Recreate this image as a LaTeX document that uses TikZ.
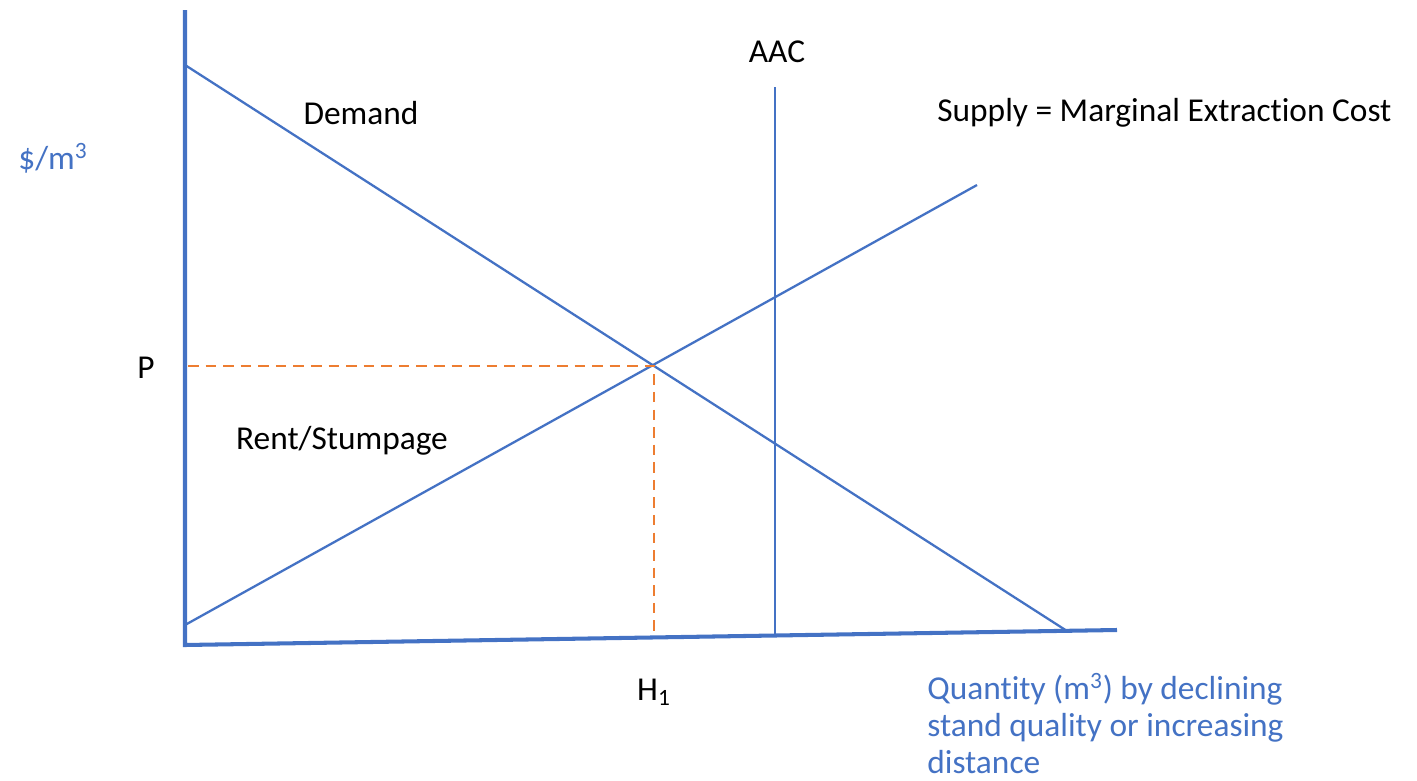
\documentclass[tikz,border=0pt]{standalone}
\usepackage{fontspec}
\setmainfont{Carlito}[Ligatures=NoCommon]
\definecolor{lineblue}{HTML}{4472C4}
\definecolor{dashorange}{HTML}{ED7D31}

\begin{document}
\begin{tikzpicture}[x=0.02cm,y=-0.02cm,
    curve/.style={lineblue,line width=1.3pt},
    axis/.style={lineblue,line width=2.3pt},
    guide/.style={dashorange,line width=1.3pt,dash pattern=on 6pt off 4pt},
    lbl/.style={inner sep=0pt,font=\fontsize{19}{21}\selectfont},
    bluelbl/.style={lbl,text=lineblue}]
    \useasboundingbox (0,0) rectangle (1417,781);
    % corner points of the axes
    \coordinate (origin) at (185,645);
    \coordinate (ytop) at (185,10);
    \coordinate (xend) at (1117,630);
    % end points of the curves
    \foreach \name/\x/\y in {dtop/185/65,dend/1067/631,sstart/185/625,send/977/185,aactop/775/87,aacbot/775/637,eq/654/366,peq/188/366,heq/654/632}
        \coordinate (\name) at (\x,\y);
    %axes
    \draw[axis] (ytop) -- (origin) -- (xend);
    % demand, supply and the allowable cut
    \draw[curve] (dtop) -- (dend);
    \draw[curve] (sstart) -- (send);
    \draw[curve] (aactop) -- (aacbot);
    % price and harvest at the equilibrium
    \draw[guide] (peq) -- (eq) -- (heq);
    % labels
    \node[lbl] (demand) at (361,113) {Demand};
    \node[lbl] (aac) at (777,52) {AAC};
    \node[lbl,anchor=west] (supply) at (937,113) {Supply = Marginal Extraction Cost};
    \node[bluelbl,anchor=west] (price) at (18,158) {\$/m\textsuperscript{3}};
    \node[lbl] (p) at (146,368) {P};
    \node[lbl] (rent) at (342,441) {Rent/Stumpage};
    \node[lbl] (h1) at (654,692) {H\textsubscript{1}};
    \node[bluelbl,anchor=north west,align=left] (quantity) at (927,673)
        {Quantity (m\textsuperscript{3}) by declining\\stand quality or increasing\\distance};
\end{tikzpicture}
\end{document}
